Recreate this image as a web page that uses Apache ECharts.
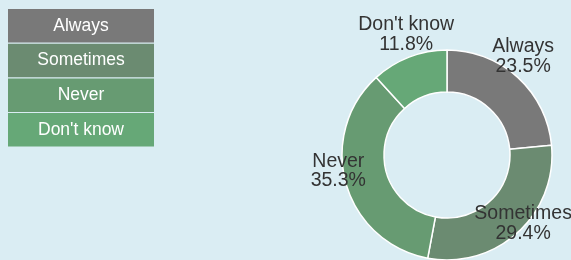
<!DOCTYPE html>
<html>
<head>
<meta charset="utf-8">
<script src="https://cdn.jsdelivr.net/npm/echarts@6/dist/echarts.min.js"></script>
<style>
html,body{margin:0;padding:0;background:#daedf3;}
#chart{width:571px;height:260px;}
</style>
</head>
<body>
<div id="chart"></div>
<script>
const categories = ["Always", "Sometimes", "Never", "Don't know"];
const counts = [4, 5, 6, 2];
const colors = ["#797979", "#6b8b71", "#679b72", "#66a877"];

const font = "'Liberation Sans', Arial, sans-serif";
const pieData = categories.map((c, i) => ({ name: c, value: counts[i] }));

const chart = echarts.init(document.getElementById('chart'), null, { renderer: 'canvas' });
chart.setOption({
  backgroundColor: '#daedf3',
  animation: false,
  color: colors,
  legend: {
    orient: 'vertical',
    left: 3,
    top: 9,
    padding: 0,
    itemGap: 1.2,
    icon: 'none',
    itemWidth: 0,
    itemHeight: 33.5,
    selectedMode: false,
    formatter: '{c|{name}}',
    data: categories.map((c, i) => ({
      name: c,
      textStyle: { backgroundColor: colors[i] }
    })),
    textStyle: {
      color: '#ffffff',
      fontSize: 17.5,
      fontFamily: font,
      width: 146,
      height: 33.5,
      rich: {
        c: {
          width: 146,
          height: 33.5,
          lineHeight: 33.5,
          align: 'center',
          color: '#ffffff',
          fontSize: 17.5,
          fontFamily: font
        }
      }
    }
  },
  series: [
    {
      type: 'pie',
      center: [447, 155],
      radius: [63, 105],
      startAngle: 90,
      clockwise: true,
      percentPrecision: 1,
      itemStyle: { borderColor: '#ffffff', borderWidth: 1.5 },
      label: { show: false },
      labelLine: { show: false },
      emphasis: { disabled: true },
      data: pieData
    },
    {
      type: 'pie',
      center: [447, 155],
      radius: [105, 115],
      startAngle: 90,
      clockwise: true,
      percentPrecision: 1,
      silent: true,
      itemStyle: { color: 'rgba(0,0,0,0)' },
      label: {
        show: true,
        position: 'inside',
        formatter: '{b}\n{d}%',
        color: '#333333',
        fontSize: 19.5,
        lineHeight: 19.5,
        fontFamily: font,
        offset: [0, -15]
      },
      labelLine: { show: false },
      emphasis: { disabled: true },
      data: pieData
    }
  ]
});
</script>
</body>
</html>
